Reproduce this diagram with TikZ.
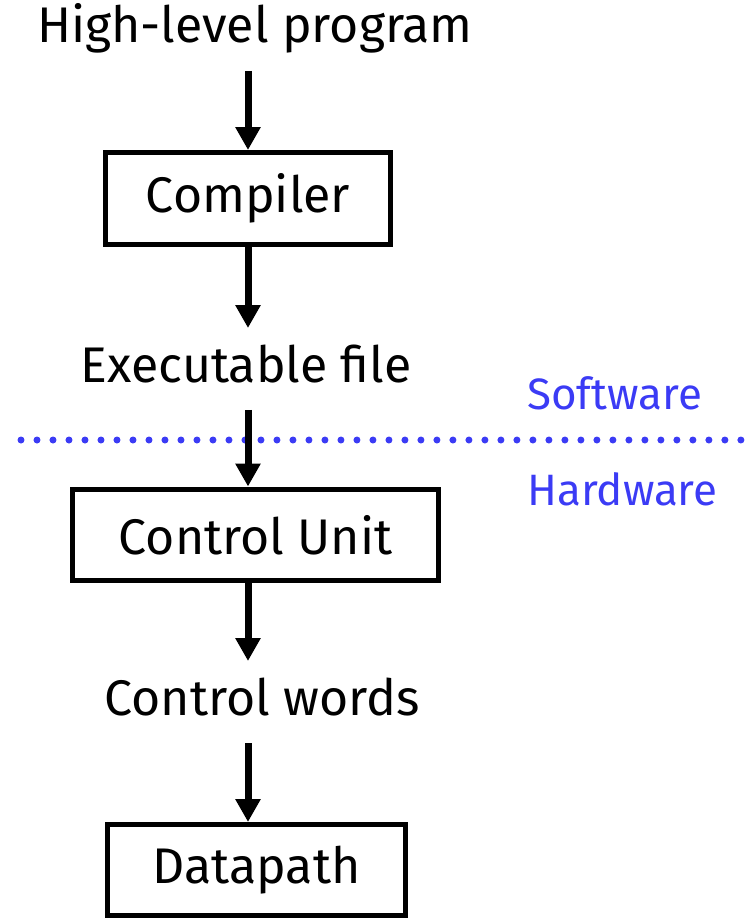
\documentclass[tikz,border=0pt]{standalone}
\usepackage{fontspec}
\setmainfont{Fira Sans}
\usetikzlibrary{arrows.meta}
\definecolor{swhw}{RGB}{59,59,245}
\tikzset{
    unit/.style={draw=black, line width=0.1cm, minimum height=1.84cm, inner sep=0pt, font=\fontsize{28.5}{33}\selectfont},
    stage/.style={inner sep=0pt, outer ysep=0.4cm, text height=0.68cm, text depth=0.16cm, font=\fontsize{28.5}{33}\selectfont},
    side/.style={anchor=base west, text=swhw, inner sep=0pt, font=\fontsize{25}{30}\selectfont},
    flow/.style={line width=0.14cm, -{Triangle[width=0.48cm, length=0.46cm]}},
    border/.style={swhw, line width=0.14cm, line cap=round, dash pattern=on 0pt off 0.32cm}
}

\begin{document}
\begin{tikzpicture}[x=0.02cm, y=-0.02cm]
        \useasboundingbox (0,0) rectangle (750,919);
        \coordinate (spine) at (248,0);
        \node[stage, anchor=base] (hlp) at (255,43) {High-level program};
        \node[unit, minimum width=5.7cm] (comp) at (248,198.5) {Compiler};
        \node[stage, anchor=base] (exe) at (246,382) {Executable file};
        \node[unit, minimum width=7.32cm] (cu) at (255.5,535) {Control Unit};
        \node[stage, anchor=base] (cw) at (262,715) {Control words};
        \node[unit, minimum width=5.96cm, minimum height=1.82cm] (dp) at (256.5,870) {Datapath};
        \node[side] (sw) at (527,409) {Software};
        \node[side] (hw) at (527,505) {Hardware};
        \draw[border] (21,440) -- (745,440);
        \draw[flow] (spine |- hlp.south) -- (spine |- comp.north);
        \draw[flow] (spine |- comp.south) -- (spine |- exe.north);
        \draw[flow] (spine |- exe.south) -- (spine |- cu.north);
        \draw[flow] (spine |- cu.south) -- (spine |- cw.north);
        \draw[flow] (spine |- cw.south) -- (spine |- dp.north);
    \end{tikzpicture}
\end{document}
